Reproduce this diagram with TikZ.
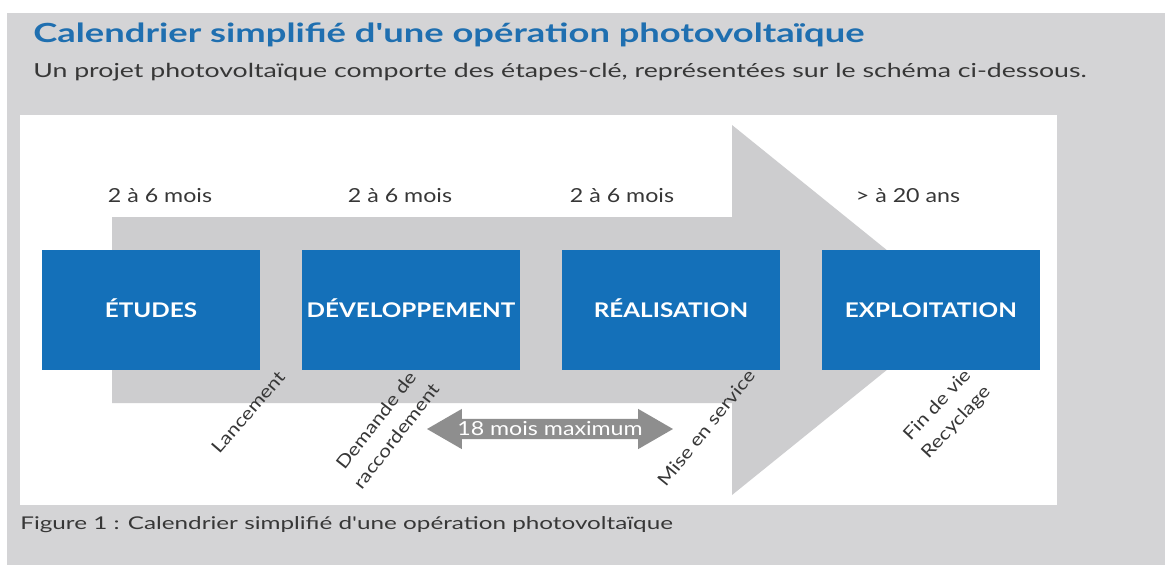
\documentclass[tikz,border=0pt]{standalone}
\usepackage{fontspec}
\setmainfont{Lato}[FakeStretch=1.2]
\newfontfamily\widelato{Lato}[FakeStretch=1.38]
\usetikzlibrary{shapes.arrows}
\definecolor{pagegray}{RGB}{212,212,214}
\definecolor{flowgray}{RGB}{205,205,207}
\definecolor{spangray}{RGB}{142,142,142}
\definecolor{stageblue}{RGB}{20,112,185}
\definecolor{titleblue}{RGB}{31,111,176}
\definecolor{textgray}{RGB}{55,55,55}

\begin{document}
\begin{tikzpicture}[x=0.02cm,y=-0.02cm,
    block_stage/.style ={rectangle, fill=stageblue, text=white,
      font=\bfseries\fontsize{11.5}{13}\selectfont,
      text height=1.6ex, text depth=0pt,
      minimum width=4.36cm, minimum height=2.4cm, inner sep=0pt},
    label_time/.style ={text=textgray, font=\fontsize{11}{13}\selectfont,
      inner sep=0pt},
    label_step/.style ={text=textgray, font=\fontsize{10}{14.5}\selectfont,
      align=center, inner sep=0pt},
    span_arrow/.style ={double arrow, fill=spangray, text=white,
      font=\fontsize{11}{12}\selectfont,
      double arrow tip angle=60, double arrow head extend=0.2cm,
      minimum height=4.92cm, inner ysep=1.5pt}]
    % page and panel
    \useasboundingbox (0,0) rectangle (1165,565);
    \fill[white] (0,0) rectangle (1165,565);
    \fill[pagegray] (7,13) rectangle (1165,565);
    \fill[white] (20,115) rectangle (1057,505);
    % heading and caption
    \node[anchor=west, text=titleblue, font=\widelato\bfseries\fontsize{15}{17}\selectfont,
      inner sep=0pt] (title) at (33,35) {Calendrier simplifié d'une opération photovoltaïque};
    \node[anchor=west, text=textgray, font=\widelato\fontsize{11}{13}\selectfont,
      inner sep=0pt] (subtitle) at (33,72) {Un projet photovoltaïque comporte des étapes-clé, représentées sur le schéma ci-dessous.};
    \node[anchor=west, text=textgray, font=\widelato\fontsize{10}{12}\selectfont,
      inner sep=0pt] (caption) at (20,525) {Figure 1 : Calendrier simplifié d'une opération photovoltaïque};
    % big timeline arrow
    \fill[flowgray] (112,217) -- (732,217) -- (732,125) -- (961,310)
      -- (732,495) -- (732,403) -- (112,403) -- cycle;
    % the four stages
    \matrix (stages) [column sep=0.84cm] at (541,310) {
      \node [block_stage] (etudes) {ÉTUDES};
      & \node [block_stage] (dev) {DÉVELOPPEMENT};
      & \node [block_stage] (real) {RÉALISATION};
      & \node [block_stage] (exploit) {EXPLOITATION}; \\
    };% end matrix
    % durations
    \node[label_time] (t_etudes) at (160,196) {2 à 6 mois};
    \node[label_time] (t_dev) at (400,196) {2 à 6 mois};
    \node[label_time] (t_real) at (622,196) {2 à 6 mois};
    \node[label_time] (t_exploit) at (908,196) {> à 20 ans};
    % milestones
    \node[label_step, rotate=49] (lancement) at (248,412) {Lancement};
    \node[label_step, rotate=52] (demande) at (386,428) {Demande de\\raccordement};
    \node[label_step, rotate=51] (mise) at (706,428) {Mise en service};
    \node[label_step, rotate=47] (fin) at (947,414) {Fin de vie\\Recyclage};
    % delay between request and commissioning
    \node[span_arrow] (delay) at (550,429) {18 mois maximum};
\end{tikzpicture}
\end{document}
